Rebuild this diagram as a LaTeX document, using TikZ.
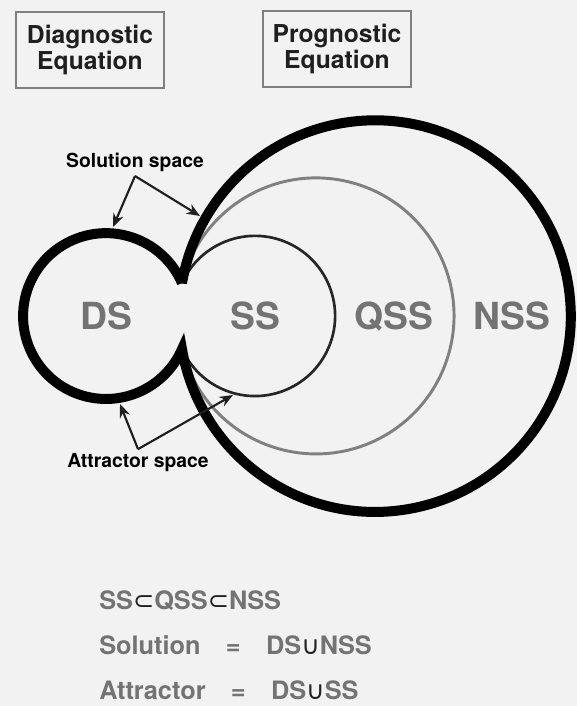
\documentclass[tikz,border=0pt]{standalone}
\usepackage{fontspec}
\setmainfont{TeX Gyre Heros}
\newfontfamily\symfont{DejaVu Sans}
\usepackage{tikz}
\usetikzlibrary{arrows.meta}
\definecolor{paper}{gray}{0.95}
\definecolor{boxline}{gray}{0.5}
\definecolor{labelgray}{gray}{0.45}
\definecolor{ink}{gray}{0.12}
\tikzstyle{eqbox} = [rectangle, draw=boxline, line width=1.5pt, minimum width=111pt, minimum height=57pt, align=center, text=ink, font=\fontsize{18.5}{16}\selectfont\bfseries]
\tikzstyle{region} = [anchor=base, text=labelgray, font=\fontsize{28}{30}\selectfont\bfseries]
\tikzstyle{callout} = [text=black, font=\fontsize{14.5}{16}\selectfont\bfseries]
\tikzstyle{relation} = [anchor=base west, inner sep=0pt, text=labelgray, font=\fontsize{19}{21}\selectfont\bfseries]
\tikzstyle{pointer} = [line width=1.6pt, draw=ink, -{Stealth[length=10pt, width=8pt]}]
\tikzstyle{thickrim} = [line width=7.5pt, draw=black, line join=miter]
\tikzstyle{thinrim} = [line width=2pt, draw=black!85]
\tikzstyle{grayrim} = [line width=2.2pt, draw=black!50]
\newcommand{\sset}{{\color{ink}\symfont\mdseries ⊂}}
\newcommand{\uset}{{\color{ink}\symfont\mdseries ∪}}

\begin{document}
\begin{tikzpicture}[x=0.75pt, y=-0.75pt]
\fill [paper] (0,0) rectangle (577,706);
\useasboundingbox (0,0) rectangle (577,706);

\node (diag) [eqbox] at (90,50) {Diagnostic\\Equation};
\node (prog) [eqbox] at (337,49) {Prognostic\\Equation};

\coordinate (cuspup) at (182,283);
\coordinate (cuspdown) at (182,349);
\draw [thinrim] (cuspup) arc[start angle=-155.7, end angle=155.7, radius=80.1];
\draw [grayrim] (cuspup) arc[start angle=-166.2, end angle=166.2, radius=138];
\draw [thickrim] (cuspup) arc[start angle=-23.5, end angle=-336.5, radius=82.9]
  arc[start angle=170.3, end angle=-170.3, radius=195.8] -- cycle;

\node (ds) [region] at (106,329) {DS};
\node (ss) [region] at (255,329) {SS};
\node (qss) [region] at (394,329) {QSS};
\node (nss) [region] at (512,329) {NSS};

\node (sol) [callout] at (135,162) {Solution space};
\node (att) [callout] at (138,463) {Attractor space};
\coordinate (dstop) at (113,227);
\coordinate (nssrim) at (200,216);
\coordinate (dsbottom) at (120,404);
\coordinate (ssrim) at (233,395);
\draw [pointer] (sol.south) -- (dstop);
\draw [pointer] (sol.south) -- (nssrim);
\draw [pointer] (att.north) -- (dsbottom);
\draw [pointer] (att.north) -- (ssrim);

\node (chain) [relation] at (99,609) {SS\sset QSS\sset NSS};
\node (solset) [relation] at (99,654) {Solution\hspace{1em}=\hspace{1em}DS\uset NSS};
\node (attset) [relation] at (99,699) {Attractor\hspace{1em}=\hspace{1em}DS\uset SS};
\end{tikzpicture}
\end{document}
